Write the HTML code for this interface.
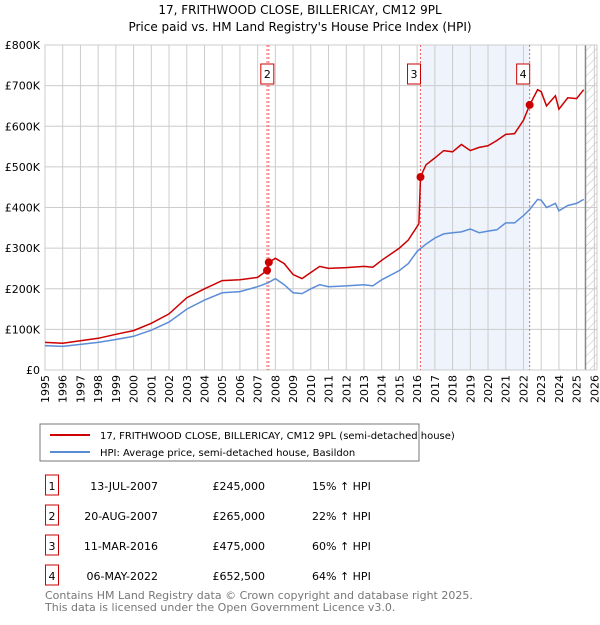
<!DOCTYPE html>
<html><head><meta charset="utf-8"><style>
body{margin:0;background:#fff;font-family:"Liberation Sans","DejaVu Sans",sans-serif;}
svg text{font-family:"DejaVu Sans","Liberation Sans",sans-serif;}
</style></head><body>
<svg id="c" width="600" height="620" xmlns="http://www.w3.org/2000/svg">
<defs><pattern id="hatch" width="6" height="6" patternUnits="userSpaceOnUse" patternTransform="rotate(45)"><line x1="0" y1="0" x2="0" y2="6" stroke="#bbb" stroke-width="1"/></pattern></defs>
<text x="300" y="14" text-anchor="middle" font-size="12">17, FRITHWOOD CLOSE, BILLERICAY, CM12 9PL</text>
<text x="300" y="31" text-anchor="middle" font-size="12">Price paid vs. HM Land Registry's House Price Index (HPI)</text>
<g id="plot"></g>
<rect x="40" y="424" width="379" height="37" fill="#fff" stroke="#777"/>
<line x1="50" y1="435" x2="90" y2="435" stroke="#cc0000" stroke-width="2"/>
<text x="100" y="439" font-size="10">17, FRITHWOOD CLOSE, BILLERICAY, CM12 9PL (semi-detached house)</text>
<line x1="50" y1="452" x2="90" y2="452" stroke="#5b8dd6" stroke-width="2"/>
<text x="100" y="456" font-size="10">HPI: Average price, semi-detached house, Basildon</text>
<g id="table"></g>
<text x="45" y="599" font-size="11" fill="#777">Contains HM Land Registry data © Crown copyright and database right 2025.</text>
<text x="45" y="611" font-size="11" fill="#777">This data is licensed under the Open Government Licence v3.0.</text>
</svg>
<script>
const hpiYears=[1995,1996,1997,1998,1999,2000,2001,2002,2003,2004,2005,2006,2007,2007.6,2008,2008.5,2009,2009.5,2010,2010.5,2011,2012,2013,2013.5,2014,2015,2015.5,2016,2016.5,2017,2017.5,2018,2018.5,2019,2019.5,2020,2020.5,2021,2021.5,2022,2022.35,2022.8,2023,2023.3,2023.8,2024,2024.5,2025,2025.4];
const hpiValues=[60,58,63,68,75,83,98,118,150,172,190,193,205,215,225,210,190,188,200,210,205,207,210,207,222,245,262,292,310,325,335,338,340,347,338,342,345,362,362,380,395,420,418,400,410,392,405,410,420];
const priceYears=[1995,1996,1997,1998,1999,2000,2001,2002,2003,2004,2005,2006,2007,2007.53,2007.63,2008,2008.5,2009,2009.5,2010,2010.5,2011,2012,2013,2013.5,2014,2015,2015.5,2016.1,2016.19,2016.5,2017,2017.5,2018,2018.5,2019,2019.5,2020,2020.5,2021,2021.5,2022,2022.35,2022.8,2023,2023.3,2023.8,2024,2024.5,2025,2025.4];
const priceValues=[68,66,72,78,88,97,115,138,178,200,220,222,228,245,265,275,262,235,225,240,255,250,252,255,253,270,300,320,360,475,505,522,540,537,555,540,548,552,565,580,582,615,652.5,690,685,650,675,642,670,668,690];
const saleLabels=["1","2","3","4"];
const saleDates=["13-JUL-2007","20-AUG-2007","11-MAR-2016","06-MAY-2022"];
const saleYears=[2007.53,2007.63,2016.19,2022.35];
const salePrices=[245,265,475,652.5];
const salePriceText=["£245,000","£265,000","£475,000","£652,500"];
const saleHpiText=["15% ↑ HPI","22% ↑ HPI","60% ↑ HPI","64% ↑ HPI"];
const yTicks=[0,100,200,300,400,500,600,700,800];
const yTickLabels=["£0","£100K","£200K","£300K","£400K","£500K","£600K","£700K","£800K"];
const xTicks=[1995,1996,1997,1998,1999,2000,2001,2002,2003,2004,2005,2006,2007,2008,2009,2010,2011,2012,2013,2014,2015,2016,2017,2018,2019,2020,2021,2022,2023,2024,2025,2026];

const L=45,R=597,T=45,B=370,X0=1995,X1=2026.15;
const xs=v=>L+(v-X0)/(X1-X0)*(R-L);
const ys=v=>B-v/800*(B-T);
const NS="http://www.w3.org/2000/svg";
function mk(p,tag,attrs){const e=document.createElementNS(NS,tag);for(const k in attrs)e.setAttribute(k,attrs[k]);p.appendChild(e);return e;}
const g=document.getElementById('plot');
let r=mk(g,'rect',{x:xs(2016.19),y:T,width:xs(2022.35)-xs(2016.19),height:B-T,fill:'#eef3fc'});


r=mk(g,'rect',{x:xs(2025.5),y:T,width:R-xs(2025.5),height:B-T,fill:'url(#hatch)'});


yTicks.forEach((v,i)=>{
  mk(g,'line',{x1:L,x2:R,y1:ys(v),y2:ys(v),stroke:'#ccc'});
  const t=mk(g,'text',{x:L-5,y:ys(v)+4,'text-anchor':'end','font-size':'11'});
  t.textContent=yTickLabels[i];
  
  
});
xTicks.forEach(v=>{
  mk(g,'line',{x1:xs(v),x2:xs(v),y1:T,y2:B,stroke:'#ccc'});
  const t=mk(g,'text',{x:0,y:0,'text-anchor':'end','font-size':'11',transform:`translate(${xs(v)+4},${B+5}) rotate(-90)`});
  t.textContent=v;
  
  
});
mk(g,'line',{x1:xs(2025.5),x2:xs(2025.5),y1:T,y2:B,stroke:'#888','stroke-width':1.5});
mk(g,'rect',{x:L,y:T,width:R-L,height:B-T,fill:'none',stroke:'#ccc'});
saleYears.forEach((v,i)=>{
  const l=mk(g,'line',{x1:xs(v),x2:xs(v),y1:T,y2:B,stroke:'#f06060','stroke-dasharray':'2,2'});
  
  
});
function line(xa,ya,col,name){
  const d=xa.map((x,i)=>(i?'L':'M')+xs(x).toFixed(1)+','+ys(ya[i]).toFixed(1)).join('');
  const p=mk(g,'path',{d:d,fill:'none',stroke:col,'stroke-width':1.5});
  
  
}
line(hpiYears,hpiValues,'#5b8dd6','hpi-line');
line(priceYears,priceValues,'#cc0000','price-line');
saleYears.forEach((v,i)=>{
  const c=mk(g,'circle',{cx:xs(v),cy:ys(salePrices[i]),r:4,fill:'#cc0000'});
  
  
  if(i>0){
    const bx=xs(v)-(i==1?10:13)+(i==1?0:0);
    const b=mk(g,'rect',{x:xs(v)-(i==1?8:13)-(i==1?0:0),y:64,width:13,height:20,fill:'#fff',stroke:'#cc0000'});
    
    
    const t=mk(g,'text',{x:xs(v)-(i==1?8:13)+6.5,y:78,'text-anchor':'middle','font-size':'11'});
    t.textContent=saleLabels[i];
    
    
  }
});
const tb=document.getElementById('table');
saleLabels.forEach((s,i)=>{
  const y=490+i*30;
  const b=mk(tb,'rect',{x:45.5,y:y-15,width:13,height:20,fill:'#fff',stroke:'#cc0000'});
  
  
  const cells=[[52,s,'middle'],[158,saleDates[i],'end'],[265,salePriceText[i],'end'],[312,saleHpiText[i],'start']];
  cells.forEach(c=>{const t=mk(tb,'text',{x:c[0],y:y,'text-anchor':c[2],'font-size':'11'});t.textContent=c[1];
    
    });
});
</script>
</body></html>
